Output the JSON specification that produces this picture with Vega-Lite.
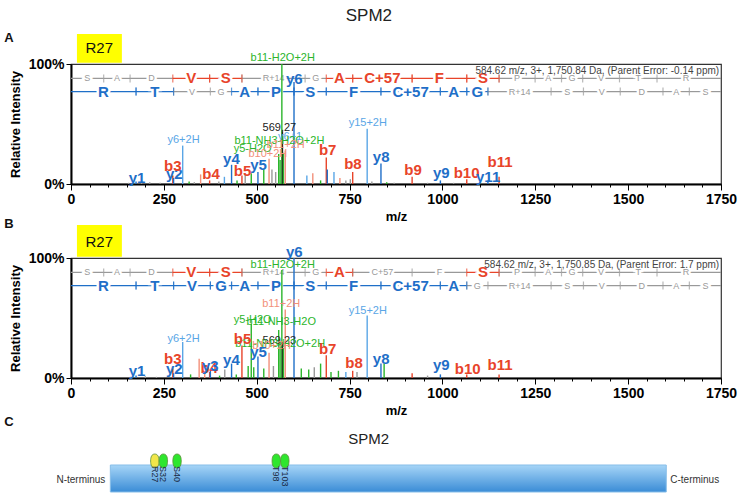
{
"$schema":"https://vega.github.io/schema/vega-lite/v6.json",
"background":"white",
"padding":{"left":3,"top":6,"right":2,"bottom":2},
"bounds":"flush",
"spacing":74,
"config":{
 "font":"Liberation Sans",
 "view":{"stroke":"#333333","strokeWidth":1.2},
 "axis":{"grid":false,"domainColor":"#000000","domainWidth":2,"tickColor":"#000000","labelColor":"#000000","titleColor":"#000000","labelFontWeight":"bold","titleFontWeight":"bold","labelFontSize":14,"titleFontSize":13,"labelOverlap":false}
},
"datasets":{
 "peaksA":[
  {"mz":155,"int":1,"t":"o"},{"mz":175.1,"int":2,"t":"y"},{"mz":190,"int":1,"t":"o"},{"mz":212,"int":1.5,"t":"o"},{"mz":240,"int":1,"t":"o"},
  {"mz":274.1,"int":7,"t":"b"},{"mz":276.2,"int":5,"t":"y"},{"mz":300.7,"int":32,"t":"y2"},{"mz":318,"int":2,"t":"n"},{"mz":332,"int":1.5,"t":"o"},
  {"mz":349,"int":8,"t":"b2"},{"mz":373.2,"int":3,"t":"b"},{"mz":398,"int":2,"t":"o"},{"mz":413,"int":6,"t":"y2"},{"mz":432.3,"int":16,"t":"y"},
  {"mz":447,"int":3,"t":"n"},{"mz":460.2,"int":7,"t":"b"},{"mz":469,"int":9,"t":"o"},{"mz":485.3,"int":9,"t":"n"},{"mz":503.3,"int":10,"t":"y"},
  {"mz":519,"int":12,"t":"n"},{"mz":533.2,"int":21,"t":"b2"},{"mz":541,"int":12,"t":"o"},{"mz":551,"int":10,"t":"o"},{"mz":559.2,"int":25,"t":"n"},
  {"mz":563,"int":20,"t":"n"},{"mz":567.7,"int":100,"t":"n"},{"mz":569.3,"int":44,"t":"p"},{"mz":572,"int":26,"t":"n"},{"mz":576.8,"int":28,"t":"b2"},
  {"mz":600.4,"int":85,"t":"y"},{"mz":635,"int":7,"t":"y2"},{"mz":651,"int":9,"t":"b2"},{"mz":672,"int":3,"t":"n"},{"mz":687.3,"int":22,"t":"b"},
  {"mz":690,"int":12,"t":"y"},{"mz":708,"int":10,"t":"y2"},{"mz":724,"int":5,"t":"b2"},{"mz":740,"int":3,"t":"o"},{"mz":752,"int":4,"t":"o"},
  {"mz":758.4,"int":10,"t":"b"},{"mz":797.4,"int":46,"t":"y2"},{"mz":810,"int":2,"t":"o"},{"mz":834.5,"int":17,"t":"y"},{"mz":850,"int":1.5,"t":"n"},
  {"mz":870,"int":1,"t":"o"},{"mz":918.4,"int":6,"t":"b"},{"mz":960,"int":1,"t":"o"},{"mz":994.5,"int":3,"t":"y"},{"mz":1030,"int":1,"t":"o"},
  {"mz":1065.5,"int":4,"t":"b"},{"mz":1122.5,"int":3,"t":"y"},{"mz":1152.5,"int":6,"t":"b"}
 ],
 "peaksB":[
  {"mz":160,"int":1,"t":"o"},{"mz":175.1,"int":2,"t":"y"},{"mz":200,"int":1.5,"t":"o"},{"mz":230,"int":1,"t":"o"},{"mz":274.1,"int":8,"t":"b"},
  {"mz":276.2,"int":4,"t":"y"},{"mz":300.7,"int":30,"t":"y2"},{"mz":322,"int":3,"t":"n"},{"mz":345,"int":16,"t":"b2"},{"mz":360,"int":5,"t":"b2"},
  {"mz":373.2,"int":5,"t":"b"},{"mz":375.2,"int":6,"t":"y"},{"mz":400,"int":2,"t":"n"},{"mz":414,"int":7,"t":"o"},{"mz":432.3,"int":12,"t":"y"},
  {"mz":445,"int":3,"t":"n"},{"mz":460.2,"int":27,"t":"b"},{"mz":477,"int":10,"t":"n"},{"mz":485.3,"int":45,"t":"n"},{"mz":492,"int":9,"t":"n"},
  {"mz":503.3,"int":18,"t":"y"},{"mz":519,"int":8,"t":"n"},{"mz":533.2,"int":21,"t":"b2"},{"mz":545,"int":10,"t":"o"},{"mz":559.2,"int":40,"t":"n"},
  {"mz":563,"int":30,"t":"n"},{"mz":567.7,"int":90,"t":"n"},{"mz":569.2,"int":30,"t":"p"},{"mz":572,"int":25,"t":"n"},{"mz":576.8,"int":57,"t":"b2"},
  {"mz":600.4,"int":100,"t":"y"},{"mz":620,"int":8,"t":"n"},{"mz":640,"int":7,"t":"n"},{"mz":655,"int":9,"t":"o"},{"mz":672,"int":12,"t":"n"},
  {"mz":687.3,"int":19,"t":"b"},{"mz":700,"int":5,"t":"n"},{"mz":720,"int":6,"t":"n"},{"mz":740,"int":5,"t":"y2"},{"mz":758.4,"int":6,"t":"b"},
  {"mz":770,"int":5,"t":"o"},{"mz":797.4,"int":52,"t":"y2"},{"mz":834.5,"int":12,"t":"y"},{"mz":843,"int":12,"t":"n"},{"mz":918.4,"int":4,"t":"b"},
  {"mz":960,"int":2,"t":"o"},{"mz":994.5,"int":3,"t":"y"},{"mz":1065.5,"int":3,"t":"b"},{"mz":1152.5,"int":3,"t":"b"}
 ],
 "labA":[
  {"txt":"y1","mz":178,"pct":1,"t":"y","k":"M"},{"txt":"y2","mz":278,"pct":4,"t":"y","k":"M"},{"txt":"b3","mz":274,"pct":11,"t":"b","k":"M"},
  {"txt":"b4","mz":377,"pct":4,"t":"b","k":"M"},{"txt":"b5","mz":462,"pct":7,"t":"b","k":"M"},{"txt":"y4","mz":432,"pct":17,"t":"y","k":"M"},
  {"txt":"y5","mz":505,"pct":12,"t":"y","k":"M"},{"txt":"b7","mz":691,"pct":24,"t":"b","k":"M"},{"txt":"b8","mz":759,"pct":12.5,"t":"b","k":"M"},
  {"txt":"y6","mz":601,"pct":83.6,"t":"y","k":"M"},{"txt":"y8","mz":835,"pct":18,"t":"y","k":"M"},{"txt":"b9","mz":921,"pct":7.5,"t":"b","k":"M"},
  {"txt":"y9","mz":997,"pct":5,"t":"y","k":"M"},{"txt":"b10","mz":1065,"pct":5,"t":"b","k":"M"},{"txt":"y11","mz":1123,"pct":2,"t":"y","k":"M"},
  {"txt":"b11","mz":1155,"pct":14,"t":"b","k":"M"},
  {"txt":"b11-H2O+2H","mz":570,"pct":102.5,"t":"n","k":"m"},{"txt":"y6+2H","mz":303,"pct":34.5,"t":"y2","k":"m"},
  {"txt":"569.27","mz":561,"pct":44,"t":"p","k":"m"},{"txt":"y6+1","mz":590,"pct":37,"t":"y2","k":"m"},
  {"txt":"b11-NH3-H2O+2H","mz":561,"pct":33.6,"t":"n","k":"m"},{"txt":"y5-H2O","mz":489,"pct":27,"t":"n","k":"m"},
  {"txt":"b10+2H","mz":530,"pct":22.5,"t":"b2","k":"m"},{"txt":"b11+2H","mz":578,"pct":30,"t":"b2","k":"m"},
  {"txt":"y15+2H","mz":799,"pct":48,"t":"y2","k":"m"}
 ],
 "labB":[
  {"txt":"y6","mz":601,"pct":100.5,"t":"y","k":"M"},{"txt":"y1","mz":178,"pct":1.7,"t":"y","k":"M"},{"txt":"y2","mz":278,"pct":3,"t":"y","k":"M"},
  {"txt":"b3","mz":274,"pct":12,"t":"b","k":"M"},{"txt":"b4","mz":372,"pct":4,"t":"b","k":"M"},{"txt":"y3","mz":375,"pct":6,"t":"y","k":"M"},
  {"txt":"y4","mz":432,"pct":11,"t":"y","k":"M"},{"txt":"b5","mz":462,"pct":28.6,"t":"b","k":"M"},{"txt":"y5","mz":505,"pct":17.5,"t":"y","k":"M"},
  {"txt":"b7","mz":691,"pct":20,"t":"b","k":"M"},{"txt":"b8","mz":762,"pct":8,"t":"b","k":"M"},{"txt":"y8","mz":835,"pct":12,"t":"y","k":"M"},
  {"txt":"y9","mz":997,"pct":6.5,"t":"y","k":"M"},{"txt":"b10","mz":1068,"pct":3.6,"t":"b","k":"M"},{"txt":"b11","mz":1155,"pct":6.5,"t":"b","k":"M"},
  {"txt":"b11-H2O+2H","mz":570,"pct":91.7,"t":"n","k":"m"},{"txt":"b11+2H","mz":566,"pct":59,"t":"b2","k":"m"},
  {"txt":"y15+2H","mz":799,"pct":53,"t":"y2","k":"m"},{"txt":"y5-H2O","mz":489,"pct":46,"t":"n","k":"m"},
  {"txt":"b11-NH3-H2O","mz":566,"pct":44,"t":"n","k":"m"},{"txt":"y6+2H","mz":303,"pct":30,"t":"y2","k":"m"},
  {"txt":"569.23","mz":561,"pct":28,"t":"p","k":"m"},{"txt":"b11-NH3-H2O+2H","mz":563,"pct":26,"t":"n","k":"m"},
  {"txt":"b10+2H","mz":540,"pct":24,"t":"b2","k":"m"}
 ],
 "seqA":[
  {"r":"b","aa":"S","from":0,"to":88.04,"mid":44,"t":"o"},{"r":"b","aa":"A","from":88.04,"to":159.08,"mid":123.6,"t":"o"},
  {"r":"b","aa":"D","from":159.08,"to":274.11,"mid":216.6,"t":"o"},{"r":"b","aa":"V","from":274.11,"to":373.17,"mid":323.6,"t":"b"},
  {"r":"b","aa":"S","from":373.17,"to":460.21,"mid":416.7,"t":"b"},{"r":"b","aa":"R+14","from":460.21,"to":630.32,"mid":545.3,"t":"o"},
  {"r":"b","aa":"G","from":630.32,"to":687.34,"mid":658.8,"t":"o"},{"r":"b","aa":"A","from":687.34,"to":758.38,"mid":722.9,"t":"b"},
  {"r":"b","aa":"C+57","from":758.38,"to":918.41,"mid":838.4,"t":"b"},{"r":"b","aa":"F","from":918.41,"to":1065.48,"mid":991.9,"t":"b"},
  {"r":"b","aa":"S","from":1065.48,"to":1152.51,"mid":1109,"t":"b"},{"r":"b","aa":"P","from":1152.51,"to":1249.56,"mid":1201,"t":"o"},
  {"r":"b","aa":"A","from":1249.56,"to":1320.6,"mid":1285.1,"t":"o"},{"r":"b","aa":"G","from":1320.6,"to":1377.62,"mid":1349.1,"t":"o"},
  {"r":"b","aa":"V","from":1377.62,"to":1476.69,"mid":1427.2,"t":"o"},{"r":"b","aa":"T","from":1476.69,"to":1577.74,"mid":1527.2,"t":"o"},
  {"r":"b","aa":"R","from":1577.74,"to":1750,"mid":1655.8,"t":"o"},
  {"r":"y","aa":"R","from":0,"to":175.12,"mid":87.6,"t":"y"},{"r":"y","aa":"T","from":175.12,"to":276.17,"mid":225.6,"t":"y"},
  {"r":"y","aa":"V","from":276.17,"to":375.24,"mid":325.7,"t":"o"},{"r":"y","aa":"G","from":375.24,"to":432.26,"mid":403.8,"t":"o"},
  {"r":"y","aa":"A","from":432.26,"to":503.3,"mid":467.8,"t":"y"},{"r":"y","aa":"P","from":503.3,"to":600.35,"mid":551.8,"t":"y"},
  {"r":"y","aa":"S","from":600.35,"to":687.38,"mid":643.9,"t":"y"},{"r":"y","aa":"F","from":687.38,"to":834.45,"mid":760.9,"t":"y"},
  {"r":"y","aa":"C+57","from":834.45,"to":994.48,"mid":914.5,"t":"y"},{"r":"y","aa":"A","from":994.48,"to":1065.52,"mid":1030,"t":"y"},
  {"r":"y","aa":"G","from":1065.52,"to":1122.54,"mid":1094,"t":"y"},{"r":"y","aa":"R+14","from":1122.54,"to":1292.66,"mid":1207.6,"t":"o"},
  {"r":"y","aa":"S","from":1292.66,"to":1379.69,"mid":1336.2,"t":"o"},{"r":"y","aa":"V","from":1379.69,"to":1478.76,"mid":1429.2,"t":"o"},
  {"r":"y","aa":"D","from":1478.76,"to":1593.79,"mid":1536.3,"t":"o"},{"r":"y","aa":"A","from":1593.79,"to":1664.83,"mid":1629.3,"t":"o"},
  {"r":"y","aa":"S","from":1664.83,"to":1750,"mid":1708.3,"t":"o"}
 ],
 "seqB":[
  {"r":"b","aa":"S","from":0,"to":88.04,"mid":44,"t":"o"},{"r":"b","aa":"A","from":88.04,"to":159.08,"mid":123.6,"t":"o"},
  {"r":"b","aa":"D","from":159.08,"to":274.11,"mid":216.6,"t":"o"},{"r":"b","aa":"V","from":274.11,"to":373.17,"mid":323.6,"t":"b"},
  {"r":"b","aa":"S","from":373.17,"to":460.21,"mid":416.7,"t":"b"},{"r":"b","aa":"R+14","from":460.21,"to":630.32,"mid":545.3,"t":"o"},
  {"r":"b","aa":"G","from":630.32,"to":687.34,"mid":658.8,"t":"o"},{"r":"b","aa":"A","from":687.34,"to":758.38,"mid":722.9,"t":"b"},
  {"r":"b","aa":"C+57","from":758.38,"to":918.41,"mid":838.4,"t":"o"},{"r":"b","aa":"F","from":918.41,"to":1065.48,"mid":991.9,"t":"o"},
  {"r":"b","aa":"S","from":1065.48,"to":1152.51,"mid":1109,"t":"b"},{"r":"b","aa":"P","from":1152.51,"to":1249.56,"mid":1201,"t":"o"},
  {"r":"b","aa":"A","from":1249.56,"to":1320.6,"mid":1285.1,"t":"o"},{"r":"b","aa":"G","from":1320.6,"to":1377.62,"mid":1349.1,"t":"o"},
  {"r":"b","aa":"V","from":1377.62,"to":1476.69,"mid":1427.2,"t":"o"},{"r":"b","aa":"T","from":1476.69,"to":1577.74,"mid":1527.2,"t":"o"},
  {"r":"b","aa":"R","from":1577.74,"to":1750,"mid":1655.8,"t":"o"},
  {"r":"y","aa":"R","from":0,"to":175.12,"mid":87.6,"t":"y"},{"r":"y","aa":"T","from":175.12,"to":276.17,"mid":225.6,"t":"y"},
  {"r":"y","aa":"V","from":276.17,"to":375.24,"mid":325.7,"t":"y"},{"r":"y","aa":"G","from":375.24,"to":432.26,"mid":403.8,"t":"y"},
  {"r":"y","aa":"A","from":432.26,"to":503.3,"mid":467.8,"t":"y"},{"r":"y","aa":"P","from":503.3,"to":600.35,"mid":551.8,"t":"y"},
  {"r":"y","aa":"S","from":600.35,"to":687.38,"mid":643.9,"t":"y"},{"r":"y","aa":"F","from":687.38,"to":834.45,"mid":760.9,"t":"y"},
  {"r":"y","aa":"C+57","from":834.45,"to":994.48,"mid":914.5,"t":"y"},{"r":"y","aa":"A","from":994.48,"to":1065.52,"mid":1030,"t":"y"},
  {"r":"y","aa":"G","from":1065.52,"to":1122.54,"mid":1094,"t":"o"},{"r":"y","aa":"R+14","from":1122.54,"to":1292.66,"mid":1207.6,"t":"o"},
  {"r":"y","aa":"S","from":1292.66,"to":1379.69,"mid":1336.2,"t":"o"},{"r":"y","aa":"V","from":1379.69,"to":1478.76,"mid":1429.2,"t":"o"},
  {"r":"y","aa":"D","from":1478.76,"to":1593.79,"mid":1536.3,"t":"o"},{"r":"y","aa":"A","from":1593.79,"to":1664.83,"mid":1629.3,"t":"o"},
  {"r":"y","aa":"S","from":1664.83,"to":1750,"mid":1708.3,"t":"o"}
 ],
 "minor":[{"mz":0}],
 "protein":[{"name":"SPM2","start":1,"end":326}],
 "sites":[
  {"site":"R27","pos":27,"kind":"methyl"},{"site":"S32","pos":32,"kind":"phospho"},{"site":"S40","pos":40,"kind":"phospho"},
  {"site":"T98","pos":98,"kind":"phospho"},{"site":"T103","pos":103,"kind":"phospho"}
 ]
},
"vconcat":[
 {
  "width":650,"height":120,
  "resolve":{"axis":{"x":"independent"}},
  "layer":[
  {"layer":[
   {"data":{"name":"seqA"},"transform":[{"filter":"datum.r === 'b'"}],"mark":{"type":"rule","strokeWidth":1.2},
    "encoding":{"x":{"field":"from","type":"quantitative","scale":{"domain":[0,1750],"nice":false,"zero":false},
      "axis":{"values":[0,250,500,750,1000,1250,1500,1750],"format":"d","tickSize":6,"labelOverlap":false,"labelFlush":false,"title":"m/z","titlePadding":4,"labelPadding":2}},
     "x2":{"field":"to"},
     "y":{"datum":88,"type":"quantitative","scale":{"domain":[0,100],"nice":false},"axis":{"values":[0,100],"labelExpr":"datum.value + '%'","title":"Relative Intensity","titlePadding":6,"tickSize":5}},
     "color":{"field":"t","type":"nominal","scale":{"domain":["b","y","b2","y2","n","o","p"],"range":["#e8442a","#1f6fc8","#f2907a","#5aa6e6","#2bb52b","#999999","#222222"]},"legend":null}}},
   {"data":{"name":"seqA"},"transform":[{"filter":"datum.r === 'y'"}],"mark":{"type":"rule","strokeWidth":1.2},
    "encoding":{"x":{"field":"from","type":"quantitative"},"x2":{"field":"to"},"y":{"datum":77},"color":{"field":"t","type":"nominal"}}},
   {"data":{"name":"seqA"},"transform":[{"filter":"datum.r === 'b' && datum.from > 0"}],"mark":{"type":"tick","orient":"vertical","size":8,"thickness":1.2},
    "encoding":{"x":{"field":"from","type":"quantitative"},"y":{"datum":88},"color":{"field":"t","type":"nominal"}}},
   {"data":{"name":"seqA"},"transform":[{"filter":"datum.r === 'b' && datum.t !== 'o'"}],"mark":{"type":"tick","orient":"vertical","size":8,"thickness":1.2},
    "encoding":{"x":{"field":"to","type":"quantitative"},"y":{"datum":88},"color":{"field":"t","type":"nominal"}}},
   {"data":{"name":"seqA"},"transform":[{"filter":"datum.r === 'y' && datum.from > 0"}],"mark":{"type":"tick","orient":"vertical","size":8,"thickness":1.2},
    "encoding":{"x":{"field":"from","type":"quantitative"},"y":{"datum":77},"color":{"field":"t","type":"nominal"}}},
   {"data":{"name":"seqA"},"transform":[{"filter":"datum.r === 'y' && datum.t !== 'o'"}],"mark":{"type":"tick","orient":"vertical","size":8,"thickness":1.2},
    "encoding":{"x":{"field":"to","type":"quantitative"},"y":{"datum":77},"color":{"field":"t","type":"nominal"}}},
   {"data":{"name":"seqA"},"transform":[{"filter":"datum.r === 'b' && datum.t === 'o'"}],"mark":{"type":"text","fontSize":9,"fill":"white","stroke":"white","strokeWidth":5,"baseline":"middle"},
    "encoding":{"x":{"field":"mid","type":"quantitative"},"y":{"datum":88},"text":{"field":"aa"}}},
   {"data":{"name":"seqA"},"transform":[{"filter":"datum.r === 'b' && datum.t === 'o'"}],"mark":{"type":"text","fontSize":9,"baseline":"middle"},
    "encoding":{"x":{"field":"mid","type":"quantitative"},"y":{"datum":88},"text":{"field":"aa"},"color":{"field":"t","type":"nominal"}}},
   {"data":{"name":"seqA"},"transform":[{"filter":"datum.r === 'b' && datum.t !== 'o'"}],"mark":{"type":"text","fontSize":15,"fontWeight":"bold","fill":"white","stroke":"white","strokeWidth":5,"baseline":"middle"},
    "encoding":{"x":{"field":"mid","type":"quantitative"},"y":{"datum":88},"text":{"field":"aa"}}},
   {"data":{"name":"seqA"},"transform":[{"filter":"datum.r === 'b' && datum.t !== 'o'"}],"mark":{"type":"text","fontSize":15,"fontWeight":"bold","baseline":"middle"},
    "encoding":{"x":{"field":"mid","type":"quantitative"},"y":{"datum":88},"text":{"field":"aa"},"color":{"field":"t","type":"nominal"}}},
   {"data":{"name":"seqA"},"transform":[{"filter":"datum.r === 'y' && datum.t === 'o'"}],"mark":{"type":"text","fontSize":9,"fill":"white","stroke":"white","strokeWidth":5,"baseline":"middle"},
    "encoding":{"x":{"field":"mid","type":"quantitative"},"y":{"datum":77},"text":{"field":"aa"}}},
   {"data":{"name":"seqA"},"transform":[{"filter":"datum.r === 'y' && datum.t === 'o'"}],"mark":{"type":"text","fontSize":9,"baseline":"middle"},
    "encoding":{"x":{"field":"mid","type":"quantitative"},"y":{"datum":77},"text":{"field":"aa"},"color":{"field":"t","type":"nominal"}}},
   {"data":{"name":"seqA"},"transform":[{"filter":"datum.r === 'y' && datum.t !== 'o'"}],"mark":{"type":"text","fontSize":15,"fontWeight":"bold","fill":"white","stroke":"white","strokeWidth":5,"baseline":"middle"},
    "encoding":{"x":{"field":"mid","type":"quantitative"},"y":{"datum":77},"text":{"field":"aa"}}},
   {"data":{"name":"seqA"},"transform":[{"filter":"datum.r === 'y' && datum.t !== 'o'"}],"mark":{"type":"text","fontSize":15,"fontWeight":"bold","baseline":"middle"},
    "encoding":{"x":{"field":"mid","type":"quantitative"},"y":{"datum":77},"text":{"field":"aa"},"color":{"field":"t","type":"nominal"}}},
   {"data":{"name":"peaksA"},"mark":{"type":"rule","strokeWidth":1.4},
    "encoding":{"x":{"field":"mz","type":"quantitative"},"y":{"field":"int","type":"quantitative"},"y2":{"datum":0},"color":{"field":"t","type":"nominal"}}},
   {"data":{"values":[{"h":"584.62 m/z, 3+, 1,750.84 Da, (Parent Error: -0.14 ppm)"}]},"mark":{"type":"text","fontSize":10,"align":"right","baseline":"alphabetic","color":"#444444"},
    "encoding":{"x":{"datum":1745},"y":{"datum":92},"text":{"field":"h"}}},
   {"data":{"name":"labA"},"transform":[{"filter":"datum.k === 'm'"}],"mark":{"type":"text","fontSize":11,"baseline":"alphabetic"},
    "encoding":{"x":{"field":"mz","type":"quantitative"},"y":{"field":"pct","type":"quantitative"},"text":{"field":"txt"},"color":{"field":"t","type":"nominal"}}},
   {"data":{"name":"labA"},"transform":[{"filter":"datum.k === 'M'"}],"mark":{"type":"text","fontSize":15,"fontWeight":"bold","baseline":"alphabetic"},
    "encoding":{"x":{"field":"mz","type":"quantitative"},"y":{"field":"pct","type":"quantitative"},"text":{"field":"txt"},"color":{"field":"t","type":"nominal"}}},
   {"data":{"values":[{"tag":"R27"}]},"mark":{"type":"rect","color":"#ffff00"},
    "encoding":{"x":{"datum":16},"x2":{"datum":137},"y":{"datum":101},"y2":{"datum":125}}},
   {"data":{"values":[{"tag":"R27"}]},"mark":{"type":"text","fontSize":15,"baseline":"middle","color":"#111111"},
    "encoding":{"x":{"datum":76},"y":{"datum":113},"text":{"field":"tag"}}},
   {"data":{"values":[{"p":"A"}]},"mark":{"type":"text","fontSize":13,"fontWeight":"bold","align":"left","baseline":"middle","color":"#111111"},
    "encoding":{"x":{"datum":-180},"y":{"datum":122},"text":{"field":"p"}}},
   {"data":{"name":"protein"},"mark":{"type":"text","fontSize":17,"baseline":"middle","color":"#222222"},
    "encoding":{"x":{"datum":802},"y":{"datum":140},"text":{"field":"name"}}}
  ]},
  {"data":{"name":"minor"},"mark":{"type":"tick","opacity":0},
   "encoding":{"x":{"field":"mz","type":"quantitative","axis":{"values":[50,100,150,200,300,350,400,450,550,600,650,700,800,850,900,950,1050,1100,1150,1200,1300,1350,1400,1450,1550,1600,1650,1700],"labels":false,"domain":false,"tickSize":3,"title":null,"orient":"bottom"}}}}
  ]
 },
 {
  "width":650,"height":120,
  "resolve":{"axis":{"x":"independent"}},
  "layer":[
  {"layer":[
   {"data":{"name":"seqB"},"transform":[{"filter":"datum.r === 'b'"}],"mark":{"type":"rule","strokeWidth":1.2},
    "encoding":{"x":{"field":"from","type":"quantitative","scale":{"domain":[0,1750],"nice":false,"zero":false},
      "axis":{"values":[0,250,500,750,1000,1250,1500,1750],"format":"d","tickSize":6,"labelOverlap":false,"labelFlush":false,"title":"m/z","titlePadding":4,"labelPadding":2}},
     "x2":{"field":"to"},
     "y":{"datum":88,"type":"quantitative","scale":{"domain":[0,100],"nice":false},"axis":{"values":[0,100],"labelExpr":"datum.value + '%'","title":"Relative Intensity","titlePadding":6,"tickSize":5}},
     "color":{"field":"t","type":"nominal","scale":{"domain":["b","y","b2","y2","n","o","p"],"range":["#e8442a","#1f6fc8","#f2907a","#5aa6e6","#2bb52b","#999999","#222222"]},"legend":null}}},
   {"data":{"name":"seqB"},"transform":[{"filter":"datum.r === 'y'"}],"mark":{"type":"rule","strokeWidth":1.2},
    "encoding":{"x":{"field":"from","type":"quantitative"},"x2":{"field":"to"},"y":{"datum":77},"color":{"field":"t","type":"nominal"}}},
   {"data":{"name":"seqB"},"transform":[{"filter":"datum.r === 'b' && datum.from > 0"}],"mark":{"type":"tick","orient":"vertical","size":8,"thickness":1.2},
    "encoding":{"x":{"field":"from","type":"quantitative"},"y":{"datum":88},"color":{"field":"t","type":"nominal"}}},
   {"data":{"name":"seqB"},"transform":[{"filter":"datum.r === 'b' && datum.t !== 'o'"}],"mark":{"type":"tick","orient":"vertical","size":8,"thickness":1.2},
    "encoding":{"x":{"field":"to","type":"quantitative"},"y":{"datum":88},"color":{"field":"t","type":"nominal"}}},
   {"data":{"name":"seqB"},"transform":[{"filter":"datum.r === 'y' && datum.from > 0"}],"mark":{"type":"tick","orient":"vertical","size":8,"thickness":1.2},
    "encoding":{"x":{"field":"from","type":"quantitative"},"y":{"datum":77},"color":{"field":"t","type":"nominal"}}},
   {"data":{"name":"seqB"},"transform":[{"filter":"datum.r === 'y' && datum.t !== 'o'"}],"mark":{"type":"tick","orient":"vertical","size":8,"thickness":1.2},
    "encoding":{"x":{"field":"to","type":"quantitative"},"y":{"datum":77},"color":{"field":"t","type":"nominal"}}},
   {"data":{"name":"seqB"},"transform":[{"filter":"datum.r === 'b' && datum.t === 'o'"}],"mark":{"type":"text","fontSize":9,"fill":"white","stroke":"white","strokeWidth":5,"baseline":"middle"},
    "encoding":{"x":{"field":"mid","type":"quantitative"},"y":{"datum":88},"text":{"field":"aa"}}},
   {"data":{"name":"seqB"},"transform":[{"filter":"datum.r === 'b' && datum.t === 'o'"}],"mark":{"type":"text","fontSize":9,"baseline":"middle"},
    "encoding":{"x":{"field":"mid","type":"quantitative"},"y":{"datum":88},"text":{"field":"aa"},"color":{"field":"t","type":"nominal"}}},
   {"data":{"name":"seqB"},"transform":[{"filter":"datum.r === 'b' && datum.t !== 'o'"}],"mark":{"type":"text","fontSize":15,"fontWeight":"bold","fill":"white","stroke":"white","strokeWidth":5,"baseline":"middle"},
    "encoding":{"x":{"field":"mid","type":"quantitative"},"y":{"datum":88},"text":{"field":"aa"}}},
   {"data":{"name":"seqB"},"transform":[{"filter":"datum.r === 'b' && datum.t !== 'o'"}],"mark":{"type":"text","fontSize":15,"fontWeight":"bold","baseline":"middle"},
    "encoding":{"x":{"field":"mid","type":"quantitative"},"y":{"datum":88},"text":{"field":"aa"},"color":{"field":"t","type":"nominal"}}},
   {"data":{"name":"seqB"},"transform":[{"filter":"datum.r === 'y' && datum.t === 'o'"}],"mark":{"type":"text","fontSize":9,"fill":"white","stroke":"white","strokeWidth":5,"baseline":"middle"},
    "encoding":{"x":{"field":"mid","type":"quantitative"},"y":{"datum":77},"text":{"field":"aa"}}},
   {"data":{"name":"seqB"},"transform":[{"filter":"datum.r === 'y' && datum.t === 'o'"}],"mark":{"type":"text","fontSize":9,"baseline":"middle"},
    "encoding":{"x":{"field":"mid","type":"quantitative"},"y":{"datum":77},"text":{"field":"aa"},"color":{"field":"t","type":"nominal"}}},
   {"data":{"name":"seqB"},"transform":[{"filter":"datum.r === 'y' && datum.t !== 'o'"}],"mark":{"type":"text","fontSize":15,"fontWeight":"bold","fill":"white","stroke":"white","strokeWidth":5,"baseline":"middle"},
    "encoding":{"x":{"field":"mid","type":"quantitative"},"y":{"datum":77},"text":{"field":"aa"}}},
   {"data":{"name":"seqB"},"transform":[{"filter":"datum.r === 'y' && datum.t !== 'o'"}],"mark":{"type":"text","fontSize":15,"fontWeight":"bold","baseline":"middle"},
    "encoding":{"x":{"field":"mid","type":"quantitative"},"y":{"datum":77},"text":{"field":"aa"},"color":{"field":"t","type":"nominal"}}},
   {"data":{"name":"peaksB"},"mark":{"type":"rule","strokeWidth":1.4},
    "encoding":{"x":{"field":"mz","type":"quantitative"},"y":{"field":"int","type":"quantitative"},"y2":{"datum":0},"color":{"field":"t","type":"nominal"}}},
   {"data":{"values":[{"h":"584.62 m/z, 3+, 1,750.85 Da, (Parent Error: 1.7 ppm)"}]},"mark":{"type":"text","fontSize":10,"align":"right","baseline":"alphabetic","color":"#444444"},
    "encoding":{"x":{"datum":1745},"y":{"datum":91.7},"text":{"field":"h"}}},
   {"data":{"name":"labB"},"transform":[{"filter":"datum.k === 'm'"}],"mark":{"type":"text","fontSize":11,"baseline":"alphabetic"},
    "encoding":{"x":{"field":"mz","type":"quantitative"},"y":{"field":"pct","type":"quantitative"},"text":{"field":"txt"},"color":{"field":"t","type":"nominal"}}},
   {"data":{"name":"labB"},"transform":[{"filter":"datum.k === 'M'"}],"mark":{"type":"text","fontSize":15,"fontWeight":"bold","baseline":"alphabetic"},
    "encoding":{"x":{"field":"mz","type":"quantitative"},"y":{"field":"pct","type":"quantitative"},"text":{"field":"txt"},"color":{"field":"t","type":"nominal"}}},
   {"data":{"values":[{"tag":"R27"}]},"mark":{"type":"rect","color":"#ffff00"},
    "encoding":{"x":{"datum":16},"x2":{"datum":137},"y":{"datum":101},"y2":{"datum":127.5}}},
   {"data":{"values":[{"tag":"R27"}]},"mark":{"type":"text","fontSize":15,"baseline":"middle","color":"#111111"},
    "encoding":{"x":{"datum":76},"y":{"datum":113},"text":{"field":"tag"}}},
   {"data":{"values":[{"p":"B"}]},"mark":{"type":"text","fontSize":13,"fontWeight":"bold","align":"left","baseline":"middle","color":"#111111"},
    "encoding":{"x":{"datum":-180},"y":{"datum":128.6},"text":{"field":"p"}}}
  ]},
  {"data":{"name":"minor"},"mark":{"type":"tick","opacity":0},
   "encoding":{"x":{"field":"mz","type":"quantitative","axis":{"values":[50,100,150,200,300,350,400,450,550,600,650,700,800,850,900,950,1050,1100,1150,1200,1300,1350,1400,1450,1550,1600,1650,1700],"labels":false,"domain":false,"tickSize":3,"title":null,"orient":"bottom"}}}}
  ]
 },
 {
  "width":650,"height":45,
  "view":{"stroke":null},
  "layer":[
   {"data":{"name":"protein"},"mark":{"type":"rect","stroke":"#86bde8","strokeWidth":1,
     "color":{"x1":0,"y1":0,"x2":0,"y2":1,"gradient":"linear","stops":[{"offset":0,"color":"#a6d5f7"},{"offset":1,"color":"#3a8cd6"}]}},
    "encoding":{"x":{"field":"start","type":"quantitative","scale":{"domain":[-22,358],"nice":false,"zero":false},"axis":null},"x2":{"field":"end"},
     "y":{"datum":5,"type":"quantitative","scale":{"domain":[0,45],"nice":false},"axis":null},"y2":{"datum":32}}},
   {"data":{"name":"protein"},"mark":{"type":"text","fontSize":10,"align":"right","baseline":"middle","dx":-5,"color":"#333333"},
    "encoding":{"x":{"field":"start","type":"quantitative"},"y":{"datum":17},"text":{"value":"N-terminus"}}},
   {"data":{"name":"protein"},"mark":{"type":"text","fontSize":10,"align":"left","baseline":"middle","dx":4,"color":"#333333"},
    "encoding":{"x":{"field":"end","type":"quantitative"},"y":{"datum":17},"text":{"value":"C-terminus"}}},
   {"data":{"name":"sites"},"mark":{"type":"point","filled":true,"size":196,"stroke":"#5c8f3a","strokeWidth":0.8,"opacity":1,
     "shape":"M0,-1C0.45,-1 0.6,-0.55 0.6,0C0.6,0.55 0.45,1 0,1C-0.45,1 -0.6,0.55 -0.6,0C-0.6,-0.55 -0.45,-1 0,-1Z"},
    "encoding":{"x":{"field":"pos","type":"quantitative"},"y":{"datum":36},
     "fill":{"field":"kind","type":"nominal","scale":{"domain":["methyl","phospho"],"range":["#f2e64a","#2ee62e"]},"legend":null}}},
   {"data":{"name":"sites"},"mark":{"type":"text","fontSize":9,"angle":90,"align":"left","baseline":"middle","color":"#1a2a44"},
    "encoding":{"x":{"field":"pos","type":"quantitative"},"y":{"datum":31},"text":{"field":"site"}}},
   {"data":{"name":"protein"},"mark":{"type":"text","fontSize":15,"baseline":"middle","color":"#222222"},
    "encoding":{"x":{"datum":152},"y":{"datum":58},"text":{"field":"name"}}},
   {"data":{"values":[{"p":"C"}]},"mark":{"type":"text","fontSize":13,"fontWeight":"bold","align":"left","baseline":"middle","color":"#111111"},
    "encoding":{"x":{"datum":-61},"y":{"datum":75},"text":{"field":"p"}}}
  ]
 }
]
}
